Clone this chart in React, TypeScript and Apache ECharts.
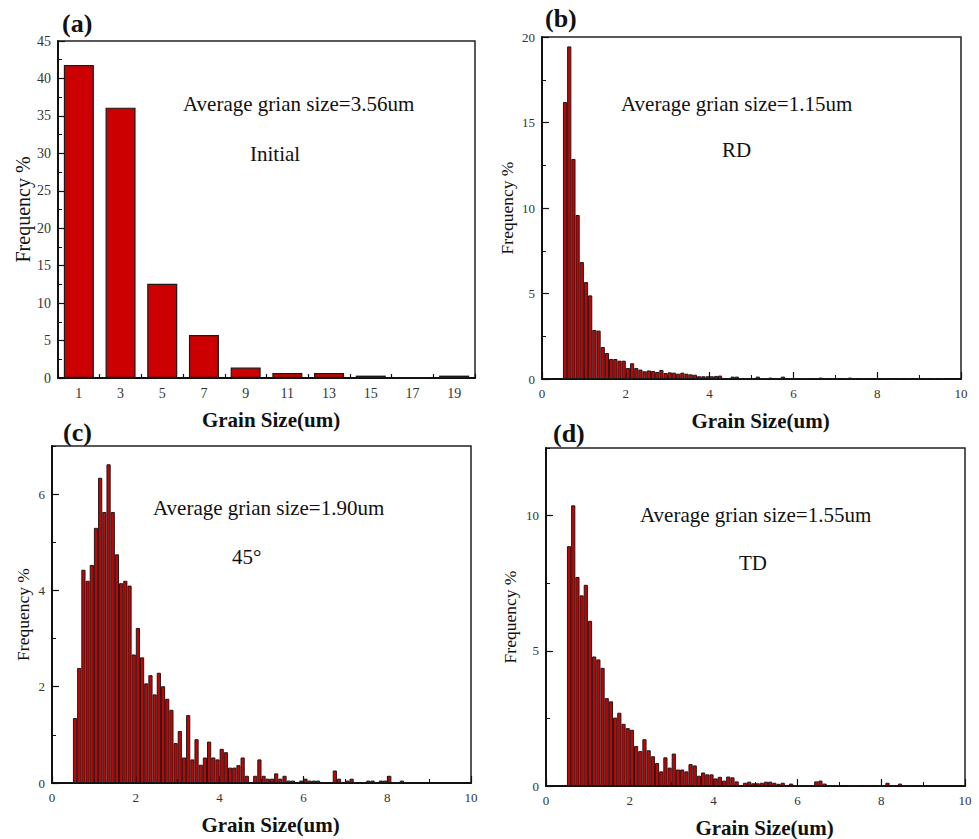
import React, { useEffect, useRef } from 'react';
import * as echarts from 'echarts';

const SERIF = 'Liberation Serif, Times New Roman, serif';

// (a) Initial: grain size classes (um) and frequency (%)
const sizeClassesA = ['1', '3', '5', '7', '9', '11', '13', '15', '17', '19'];
const freqInitial = [41.8, 36.1, 12.57, 5.75, 1.39, 0.67, 0.67, 0.32, 0, 0.32];

// (b)-(d): histogram bins of 0.1 um starting at 0.5 um
const BIN_START = 0.5;
const BIN_WIDTH = 0.1;

const freqRD = [
  16.2, 19.45, 12.87, 9.59, 6.84, 5.67, 4.89, 2.87, 2.83, 1.87,
  1.52, 1.17, 1.17, 1.07, 1.07, 0.64, 0.92, 0.64, 0.55, 0.45,
  0.5, 0.47, 0.41, 0.53, 0.35, 0.39, 0.37, 0.31, 0.37, 0.31,
  0.27, 0.25, 0.16, 0.16, 0.16, 0.16, 0.18, 0.2, 0.06, 0.06,
  0.14, 0.14, 0.03, 0.03, 0.03, 0.03, 0.14, 0.03, 0.03, 0.08,
  0.03, 0.03, 0.14, 0.03, 0.03, 0.03, 0.03, 0.03, 0.03, 0,
  0.03, 0.08, 0.03, 0, 0.03, 0.03, 0, 0.03, 0.08, 0.03,
  0, 0.03, 0.03, 0, 0.03, 0, 0.03, 0, 0.03, 0,
  0.03, 0, 0.03, 0, 0.03, 0, 0.03, 0, 0.03, 0,
  0.03, 0, 0, 0, 0,
];

const freq45 = [
  1.35, 2.39, 4.43, 4.2, 4.53, 5.3, 6.34, 5.63, 6.62, 5.63,
  4.75, 4.15, 4.2, 4.1, 2.67, 3.22, 2.61, 2.07, 2.24, 1.84,
  2.29, 2.01, 1.75, 1.52, 0.83, 1.08, 0.53, 1.41, 0.49, 0.91,
  0.38, 0.53, 0.86, 0.53, 0.49, 0.71, 0.64, 0.32, 0.32, 0.37,
  0.53, 0.15, 0, 0.15, 0.49, 0.15, 0.09, 0.09, 0.2, 0.09,
  0.15, 0.05, 0.05, 0, 0.05, 0.09, 0.05, 0.05, 0.05, 0,
  0, 0, 0.26, 0.09, 0, 0.05, 0.09, 0, 0, 0,
  0.05, 0.05, 0, 0.05, 0.05, 0.15, 0, 0, 0.05, 0,
  0, 0, 0, 0, 0, 0, 0, 0, 0, 0,
  0, 0, 0, 0, 0,
];

const freqTD = [
  8.87, 10.38, 7.73, 7.05, 7.44, 6.11, 4.79, 4.68, 4.37, 3.25,
  3.13, 2.53, 2.71, 2.3, 2.14, 2.08, 1.48, 1.29, 1.73, 1.32,
  1.1, 0.85, 0.54, 1.06, 0.68, 1.2, 0.61, 0.61, 0.54, 0.81,
  0.76, 0.38, 0.5, 0.43, 0.43, 0.28, 0.34, 0.2, 0.35, 0.32,
  0.17, 0.02, 0.12, 0.16, 0.1, 0.1, 0.12, 0.16, 0.16, 0.12,
  0.08, 0.12, 0.04, 0.09, 0.02, 0.02, 0.02, 0.02, 0.02, 0.17,
  0.2, 0.09, 0.02, 0.02, 0.02, 0, 0, 0.02, 0.02, 0.02,
  0, 0.02, 0.02, 0, 0.02, 0.02, 0.12, 0.03, 0, 0.09,
  0.02, 0.02, 0, 0, 0.02, 0, 0, 0, 0, 0,
  0, 0, 0, 0, 0,
];

const annotations = [
  { avg: 'Average grian size=3.56um', tag: 'Initial' },
  { avg: 'Average grian size=1.15um', tag: 'RD' },
  { avg: 'Average grian size=1.90um', tag: '45°' },
  { avg: 'Average grian size=1.55um', tag: 'TD' },
];
const panelLabels = ['(a)', '(b)', '(c)', '(d)'];

const toBins = (vals: number[]) =>
  vals
    .map((v, i) => [Number((BIN_START + BIN_WIDTH * (i + 0.5)).toFixed(2)), v])
    .filter((d) => d[1] > 0);

const INK = '#111';
const LABEL = '#333';

const axisLine = { show: true, onZero: false, lineStyle: { color: INK, width: 2 } };
const axisTick = { show: true, inside: true, length: 7, lineStyle: { color: INK, width: 1.2 } };
const minorTick = { show: true, splitNumber: 2, length: 4, lineStyle: { color: INK, width: 1 } };

function valueX(gridIndex: number) {
  return {
    type: 'value',
    gridIndex,
    min: 0,
    max: 10,
    interval: 2,
    axisLine,
    axisTick,
    minorTick,
    splitLine: { show: false },
    axisLabel: { fontFamily: SERIF, fontSize: 13, color: LABEL, margin: 8 },
    name: 'Grain Size(um)',
    nameLocation: 'middle',
    nameGap: 31,
    nameTextStyle: { fontFamily: SERIF, fontSize: 21, fontWeight: 'bold', color: INK, padding: [0, 0, 0, 18] },
  };
}

function valueY(gridIndex: number, max: number, interval: number, fontSize: number, nameGap: number, nameSize: number) {
  const exact = max % interval === 0;
  return {
    type: 'value',
    gridIndex,
    position: 'left',
    min: 0,
    max,
    interval,
    axisLine,
    axisTick,
    minorTick: exact ? minorTick : { show: false },
    splitLine: { show: false },
    axisLabel: { fontFamily: SERIF, fontSize, color: LABEL, margin: 7, showMaxLabel: exact },
    name: 'Frequency %',
    nameLocation: 'middle',
    nameRotate: 90,
    nameGap,
    nameTextStyle: { fontFamily: SERIF, fontSize: nameSize, color: INK },
  };
}

// helper axis drawing only the short (minor) ticks for panels whose max is not a tick multiple
function minorOnlyY(gridIndex: number, max: number, step: number) {
  return {
    type: 'value',
    gridIndex,
    position: 'left',
    offset: 0,
    min: 0,
    max,
    interval: step,
    axisLine: { show: false },
    axisTick: { show: true, inside: true, length: 4, lineStyle: { color: INK, width: 1 } },
    axisLabel: { show: false },
    splitLine: { show: false },
  };
}

const barStyle = { color: '#cc0000', borderColor: '#1a1a1a', borderWidth: 1 };

export default function App() {
  const ref = useRef<HTMLDivElement>(null);

  useEffect(() => {
    if (!ref.current) return;
    const chart = echarts.init(ref.current, undefined, { renderer: 'svg' });

    const grids = [
      { left: 58, top: 41, width: 417, height: 337 },
      { left: 542, top: 37, width: 419, height: 342 },
      { left: 52, top: 446, width: 419, height: 337 },
      { left: 546, top: 448, width: 419, height: 338 },
    ].map((g) => ({ ...g, show: true, borderColor: '#222', borderWidth: 1.5, backgroundColor: 'transparent' }));

    const textPos = [
      { ax: 183, ay: 104, tx: 250, ty: 154, lx: 62, ly: 23 },
      { ax: 621, ay: 104, tx: 722, ty: 150, lx: 545, ly: 18 },
      { ax: 153, ay: 508, tx: 232, ty: 557, lx: 63, ly: 432 },
      { ax: 640, ay: 515, tx: 739, ty: 563, lx: 553, ly: 433 },
    ];

    const txt = (text: string, x: number, y: number, size: number, bold = false) => ({
      type: 'text',
      x,
      y,
      silent: true,
      style: {
        text,
        fill: INK,
        font: `${bold ? 'bold ' : ''}${size}px ${SERIF}`,
        align: 'left',
        verticalAlign: 'middle',
      },
    });

    const graphic: any[] = [];
    textPos.forEach((p, i) => {
      graphic.push(txt(annotations[i].avg, p.ax, p.ay, 21));
      graphic.push(txt(annotations[i].tag, p.tx, p.ty, 21));
      graphic.push(txt(panelLabels[i], p.lx, p.ly, 26, true));
    });

    const option: any = {
      animation: false,
      backgroundColor: '#fff',
      grid: grids,
      xAxis: [
        {
          type: 'category',
          gridIndex: 0,
          data: sizeClassesA,
          boundaryGap: true,
          axisLine,
          axisTick: { show: true, inside: true, alignWithLabel: false, length: 4, lineStyle: { color: INK, width: 1.2 } },
          axisLabel: { interval: 0, fontFamily: SERIF, fontSize: 14, color: LABEL, margin: 8 },
          name: 'Grain Size(um)',
          nameLocation: 'middle',
          nameGap: 31,
          nameTextStyle: { fontFamily: SERIF, fontSize: 21, fontWeight: 'bold', color: INK, padding: [0, 0, 0, 9] },
        },
        valueX(1),
        valueX(2),
        valueX(3),
      ],
      yAxis: [
        valueY(0, 45, 5, 14, 25, 20),
        valueY(1, 20, 5, 13, 26, 17.5),
        valueY(2, 7, 2, 13, 20, 17.5),
        valueY(3, 12.5, 5, 13, 27, 17.5),
        minorOnlyY(2, 7, 1),
        minorOnlyY(3, 12.5, 2.5),
      ],
      series: [
        {
          type: 'bar',
          xAxisIndex: 0,
          yAxisIndex: 0,
          data: freqInitial,
          barWidth: '72%',
          itemStyle: { ...barStyle, borderWidth: 1.2 },
        },
        { type: 'bar', xAxisIndex: 1, yAxisIndex: 1, data: toBins(freqRD), barWidth: '100%', itemStyle: barStyle },
        { type: 'bar', xAxisIndex: 2, yAxisIndex: 2, data: toBins(freq45), barWidth: '100%', itemStyle: barStyle },
        { type: 'bar', xAxisIndex: 3, yAxisIndex: 3, data: toBins(freqTD), barWidth: '100%', itemStyle: barStyle },
      ],
      graphic,
    };

    chart.setOption(option);
    return () => chart.dispose();
  }, []);

  return (
    <div
      ref={ref}
      style={{ position: 'absolute', left: 0, top: 0, width: 979, height: 839, background: '#fff' }}
    />
  );
}
